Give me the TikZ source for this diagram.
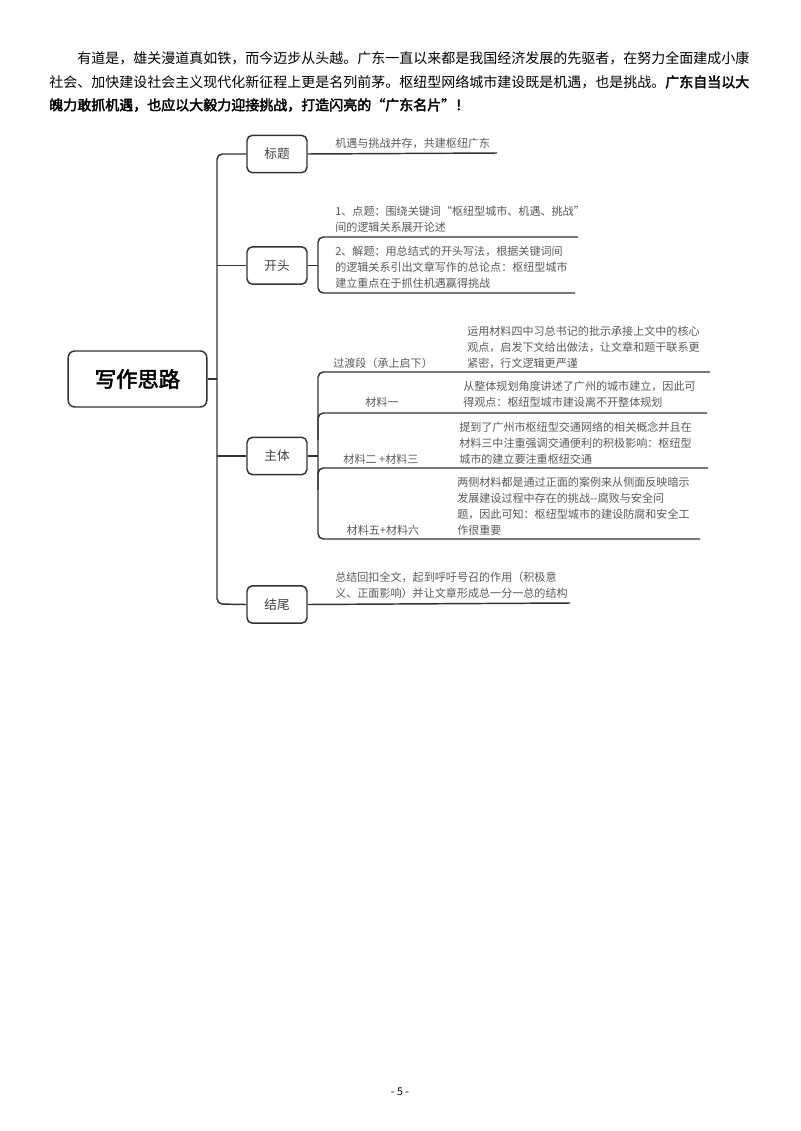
\documentclass[tikz,border=0pt]{standalone}
\usepackage{fontspec}
\setmainfont{Noto Sans CJK SC}
\newfontfamily\cjk{Noto Sans CJK SC}
\newfontfamily\cjkb[FakeBold=2.5]{Noto Sans CJK SC}
\begin{document}
\begin{tikzpicture}[x=0.75pt,y=-0.75pt,
  ln/.style={draw=black!80,line width=1.1pt},
  br/.style={ln,rounded corners=4pt},
  box/.style={ln,rounded corners=4pt,minimum width=45pt,minimum height=28pt,font=\cjk\fontsize{9.5}{11}\selectfont,text=black!75,inner sep=0pt},
  txt/.style={font=\cjk\fontsize{8.3}{12}\selectfont,text=black!65,align=left,inner sep=0pt},
  para/.style={font=\cjk\fontsize{10.5}{12}\selectfont,anchor=west,inner sep=0pt}]
\useasboundingbox (0,0) rectangle (800,1131);
% paragraph
\node[para] (p1) at (77,58) {有道是，雄关漫道真如铁，而今迈步从头越。广东一直以来都是我国经济发展的先驱者，在努力全面建成小康};
\node[para] (p2) at (49,82) {社会、加快建设社会主义现代化新征程上更是名列前茅。枢纽型网络城市建设既是机遇，也是挑战。\cjkb 广东自当以大};
\node[para] (p3) at (49,105) {\cjkb 魄力敢抓机遇，也应以大毅力迎接挑战，打造闪亮的“广东名片”！};
% root
\node[ln,rounded corners=5pt,minimum width=104pt,minimum height=42pt,inner sep=0pt,font=\cjkb\fontsize{16}{18}\selectfont] (root) at (137.5,379) {写作思路};
\node[box] (b1) at (277,154) {标题};
\node[box] (b2) at (277,265.5) {开头};
\node[box] (b3) at (277,456) {主体};
\node[box] (b4) at (277,604.5) {结尾};
\coordinate (sp) at (217,379);
\draw[ln] (root.east) -- (sp);
\draw[br] (b1.west) -- (217,154) -- (217,604) -- (b4.west);
\draw[ln] (b2.west) -- (217,265.5);
\draw[ln] (b3.west) -- (217,456);
% title
\coordinate (t1e) at (497,153);
\draw[ln] (b1.east) -- (t1e);
\node[txt,anchor=south west] (t1) at (335,149) {机遇与挑战并存，共建枢纽广东};
% opening
\coordinate (k1) at (578,237);
\coordinate (k2) at (575,293);
\draw[ln] (b2.east) -- (318,265.5);
\draw[br] (k1) -- (318,237) -- (318,293) -- (k2);
\node[txt,anchor=south west] (o1) at (335,233) {1、点题：围绕关键词“枢纽型城市、机遇、挑战”\\间的逻辑关系展开论述};
\node[txt,anchor=south west] (o2) at (335,289) {2、解题：用总结式的开头写法，根据关键词间\\的逻辑关系引出文章写作的总论点：枢纽型城市\\建立重点在于抓住机遇赢得挑战};
% body
\coordinate (m1) at (710,372);
\coordinate (m2) at (707,413);
\coordinate (m3) at (708,468);
\coordinate (m4) at (700,539);
\draw[ln] (b3.east) -- (318,456);
\draw[br] (m1) -- (318,372) -- (318,539) -- (m4);
\draw[br] (m2) -- (318,413) -- (318,440);
\draw[br] (m3) -- (318,468) -- (318,490);
\node[txt,anchor=south west] (l1) at (333,369) {过渡段（承上启下）};
\node[txt,anchor=south west] (d1) at (467,369) {运用材料四中习总书记的批示承接上文中的核心\\观点，启发下文给出做法，让文章和题干联系更\\紧密，行文逻辑更严谨};
\node[txt,anchor=south] (l2) at (382,408) {材料一};
\node[txt,anchor=south west] (d2) at (463,408) {从整体规划角度讲述了广州的城市建立，因此可\\得观点：枢纽型城市建设离不开整体规划};
\node[txt,anchor=south] (l3) at (381,465) {材料二 +材料三};
\node[txt,anchor=south west] (d3) at (459,465) {提到了广州市枢纽型交通网络的相关概念并且在\\材料三中注重强调交通便利的积极影响：枢纽型\\城市的建立要注重枢纽交通};
\node[txt,anchor=south] (l4) at (383,536) {材料五+材料六};
\node[txt,anchor=south west] (d4) at (457,536) {两侧材料都是通过正面的案例来从侧面反映暗示\\发展建设过程中存在的挑战--腐败与安全问\\题，因此可知：枢纽型城市的建设防腐和安全工\\作很重要};
% ending
\coordinate (e1) at (570,603);
\draw[ln] (b4.east) -- (e1);
\node[txt,anchor=south west] (en) at (335,599) {总结回扣全文，起到呼吁号召的作用（积极意\\义、正面影响）并让文章形成总一分一总的结构};
% page number
\node[font=\cjk\fontsize{8}{10}\selectfont] (pg) at (400,1092) {- 5 -};
\end{tikzpicture}
\end{document}
